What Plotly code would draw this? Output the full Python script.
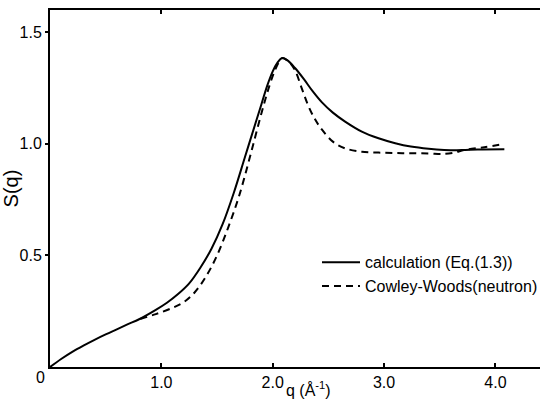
import plotly.graph_objects as go

# Calculation (Eq.(1.3)) - solid curve
q_calc = [0, 0.1, 0.2, 0.3, 0.4, 0.5, 0.6, 0.7, 0.8, 0.95, 1.05, 1.15, 1.25, 1.35, 1.45,
          1.55, 1.65, 1.75, 1.85, 1.9, 1.95, 2.0, 2.04, 2.085, 2.13, 2.2, 2.28, 2.36,
          2.44, 2.54, 2.65, 2.8, 2.95, 3.1, 3.24, 3.4, 3.54, 3.7, 3.84, 4.08]
s_calc = [0, 0.036, 0.068, 0.096, 0.122, 0.146, 0.169, 0.192, 0.214, 0.256, 0.288, 0.327,
          0.375, 0.445, 0.53, 0.64, 0.78, 0.94, 1.10, 1.18, 1.26, 1.325, 1.362, 1.385,
          1.375, 1.34, 1.29, 1.235, 1.187, 1.14, 1.10, 1.055, 1.025, 1.003, 0.988, 0.978,
          0.973, 0.972, 0.975, 0.976]

# Cowley-Woods (neutron) - dashed curve
q_neut = [0.81, 0.95, 1.1, 1.2, 1.3, 1.4, 1.5, 1.6, 1.7, 1.8, 1.9, 1.97, 2.02, 2.06, 2.09,
          2.15, 2.2, 2.26, 2.32, 2.38, 2.44, 2.54, 2.65, 2.8, 2.95, 3.1, 3.24, 3.4, 3.54,
          3.64, 3.72, 3.9, 4.06]
s_neut = [0.215, 0.237, 0.265, 0.29, 0.335, 0.405, 0.50, 0.625, 0.77, 0.95, 1.14, 1.26,
          1.33, 1.37, 1.385, 1.365, 1.33, 1.25, 1.17, 1.11, 1.065, 1.01, 0.98, 0.965,
          0.961, 0.959, 0.958, 0.957, 0.955, 0.962, 0.973, 0.985, 0.998]

x_ticks = [1, 2, 3, 4]
x_ticklabels = ["1.0", "2.0", "3.0", "4.0"]
y_ticks = [0.5, 1.0, 1.5]
y_ticklabels = ["0.5", "1.0", "1.5"]

FONT = "Liberation Sans, Arial, sans-serif"
W, H, L, R, T, B = 543, 402, 50, 0, 10, 35
pw, ph = W - L - R, H - T - B

fig = go.Figure()
fig.add_trace(go.Scatter(x=q_calc, y=s_calc, mode="lines", name="calculation (Eq.(1.3))",
                         line=dict(color="black", width=2, shape="spline", smoothing=1)))
fig.add_trace(go.Scatter(x=q_neut, y=s_neut, mode="lines", name="Cowley-Woods(neutron)",
                         line=dict(color="black", width=2, dash="7px,5px", shape="spline",
                                   smoothing=1)))

fig.update_layout(
    width=W, height=H,
    margin=dict(l=L, r=R, t=T, b=B),
    paper_bgcolor="white", plot_bgcolor="white",
    font=dict(family=FONT, color="black", size=16),
    showlegend=True,
    legend=dict(x=0.545, y=0.341, xanchor="left", yanchor="top",
                bgcolor="rgba(0,0,0,0)", font=dict(size=16), tracegroupgap=0,
                itemwidth=38),
    xaxis=dict(range=[0, 4.4], tickvals=x_ticks, ticktext=x_ticklabels,
               showgrid=False, zeroline=False, showline=True, linecolor="black",
               linewidth=2, ticks="inside", ticklen=4, tickwidth=1.5, tickcolor="black",
               mirror="ticks", tickfont=dict(size=16)),
    yaxis=dict(range=[0, 1.6], tickvals=y_ticks, ticktext=y_ticklabels,
               showgrid=False, zeroline=False, showline=True, linecolor="black",
               linewidth=2, ticks="outside", ticklen=3, tickwidth=1.5, tickcolor="black",
               tickfont=dict(size=16),
               title=dict(text="S(q)", font=dict(size=20), standoff=0)),
    annotations=[
        dict(text="0", xref="paper", yref="paper", x=(40 - L) / pw,
             y=-(378 - (T + ph)) / ph, xanchor="center", yanchor="middle",
             showarrow=False, font=dict(size=16)),
        dict(text="q (Å<sup>-1</sup>)", xref="paper", yref="paper",
             x=(310 - L) / pw, y=-(389 - (T + ph)) / ph,
             xanchor="center", yanchor="middle", showarrow=False, font=dict(size=16)),
    ],
)

fig.write_html("out.html", config={"displayModeBar": False},
               post_script="document.body.style.margin='0px';")
